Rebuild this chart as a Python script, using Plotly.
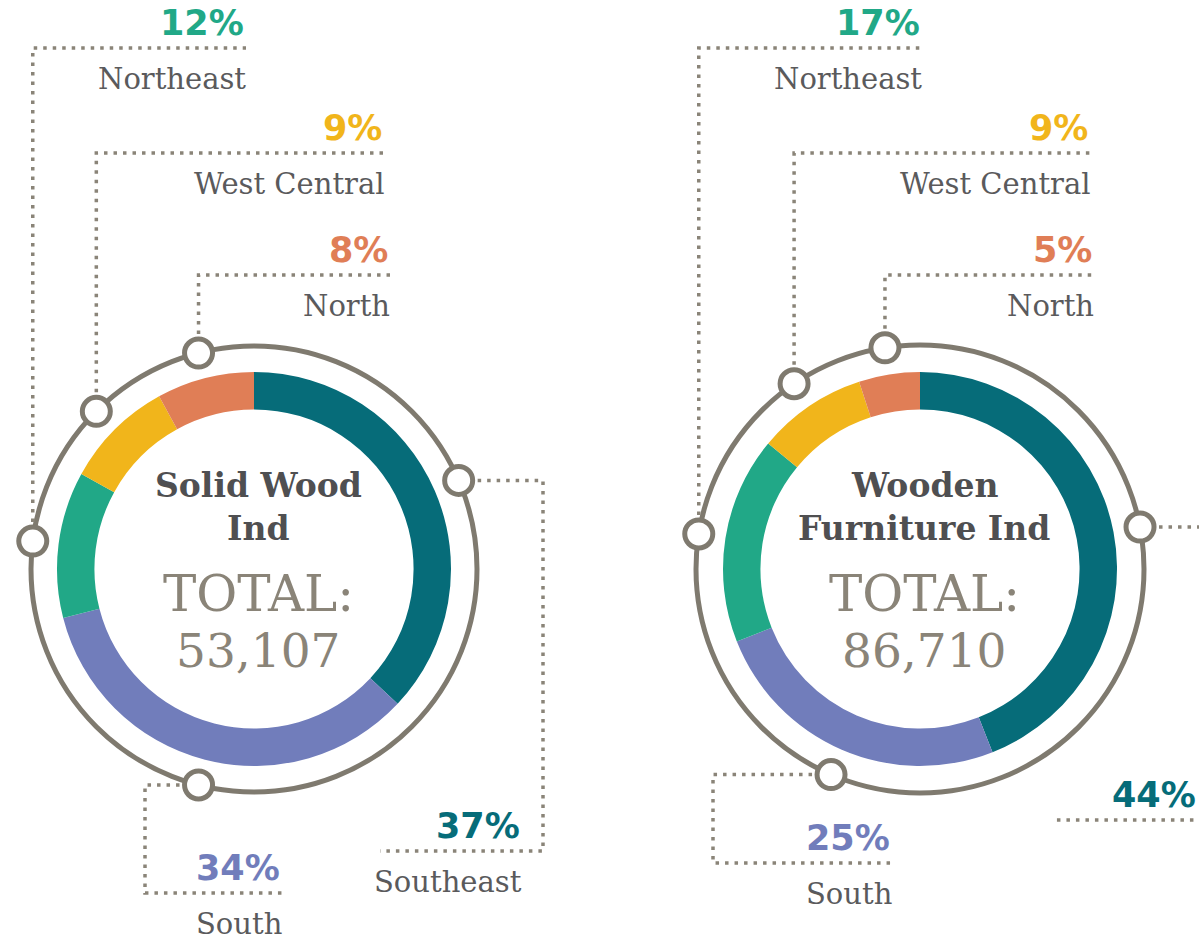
import numpy as np
import plotly.graph_objects as go

# ---------------- data ----------------
regions = ["Southeast", "South", "Northeast", "West Central", "North"]
region_colors = ["#066c79", "#717dbb", "#21a887", "#f1b51b", "#e07e56"]
solid_wood_pct = [37, 34, 12, 9, 8]
wooden_furniture_pct = [44, 25, 17, 9, 5]
chart_titles = [["Solid Wood", "Ind"], ["Wooden", "Furniture Ind"]]
chart_totals = [53107, 86710]

# ---------------- layout / style ----------------
W, H = 1199, 940
RING = "#7f7a6f"
DOT = "#8a8478"
TXT = "#5a5a5c"
TOT = "#8a8478"

charts = [
    dict(values=solid_wood_pct, titles=chart_titles[0], total=chart_totals[0],
         cx=254, cy=569, r_pie=197, r_ring=223,
         callouts={
             "Northeast": dict(kind="up", line_y=48, label_x=246),
             "West Central": dict(kind="up", line_y=153, label_x=384),
             "North": dict(kind="up", line_y=275, label_x=390),
             "Southeast": dict(kind="side", corner_x=543, line_y=851, far_x=380, label_x=522),
             "South": dict(kind="side", corner_x=145, line_y=893, far_x=282, label_x=282),
         }),
    dict(values=wooden_furniture_pct, titles=chart_titles[1], total=chart_totals[1],
         cx=920, cy=569, r_pie=197, r_ring=224,
         callouts={
             "Northeast": dict(kind="up", line_y=48, label_x=922),
             "West Central": dict(kind="up", line_y=153, label_x=1090),
             "North": dict(kind="up", line_y=275, label_x=1094),
             "Southeast": dict(kind="side", corner_x=1215, line_y=820, far_x=1055, label_x=1198),
             "South": dict(kind="side", corner_x=713, line_y=863, far_x=892, label_x=892),
         }),
]

fig = go.Figure()
annotations = []
shapes = []

for ch in charts:
    vals = np.array(ch["values"], dtype=float)
    cx, cy, rp, rr = ch["cx"], ch["cy"], ch["r_pie"], ch["r_ring"]

    # donut
    fig.add_trace(go.Pie(
        values=vals, labels=regions, sort=False, direction="clockwise", rotation=0,
        hole=0.81, marker=dict(colors=region_colors, line=dict(width=0)),
        textinfo="none", hoverinfo="skip", showlegend=False,
        domain=dict(x=[(cx - rp) / W, (cx + rp) / W],
                    y=[1 - (cy + rp) / H, 1 - (cy - rp) / H]),
    ))

    # outer ring
    shapes.append(dict(type="circle", xref="x", yref="y", layer="below",
                       x0=cx - rr, x1=cx + rr, y0=cy - rr, y1=cy + rr,
                       line=dict(color=RING, width=5), fillcolor="rgba(0,0,0,0)"))

    # anchor angles at slice midpoints (clockwise from 12 o'clock)
    frac = vals / vals.sum()
    mids = (np.cumsum(frac) - frac / 2) * 2 * np.pi
    ax = cx + rr * np.sin(mids)
    ay = cy - rr * np.cos(mids)

    for i, reg in enumerate(regions):
        co = ch["callouts"][reg]
        x0, y0 = ax[i], ay[i]
        if co["kind"] == "up":
            px = [x0, x0, co["label_x"]]
            py = [y0, co["line_y"], co["line_y"]]
        else:
            px = [x0, co["corner_x"], co["corner_x"], co["far_x"]]
            py = [y0, y0, co["line_y"], co["line_y"]]
        fig.add_trace(go.Scatter(x=px, y=py, mode="lines", hoverinfo="skip",
                                 showlegend=False,
                                 line=dict(color=DOT, width=3.5, dash="3.5px,6px")))
        annotations.append(dict(x=co["label_x"], y=co["line_y"] - 25, xref="x", yref="y",
                                text=f"{int(vals[i])}%", showarrow=False,
                                xanchor="right", yanchor="middle",
                                font=dict(family="DejaVu Sans", size=35, color=region_colors[i],
                                          weight="bold")))
        annotations.append(dict(x=co["label_x"] + 2, y=co["line_y"] + 31, xref="x", yref="y",
                                text=reg, showarrow=False,
                                xanchor="right", yanchor="middle",
                                font=dict(family="DejaVu Serif", size=29, color=TXT)))

    # anchor circles
    fig.add_trace(go.Scatter(x=ax, y=ay, mode="markers", hoverinfo="skip", showlegend=False,
                             marker=dict(size=28, color="white",
                                         line=dict(color=RING, width=5))))

    # centre text
    for k, line in enumerate(ch["titles"]):
        annotations.append(dict(x=cx + 4, y=485 + 43 * k, xref="x", yref="y", text=line,
                                showarrow=False, xanchor="center", yanchor="middle",
                                font=dict(family="DejaVu Serif", size=33, color="#4f4f51",
                                          weight="bold")))
    annotations.append(dict(x=cx + 4, y=594, xref="x", yref="y", text="TOTAL:",
                            showarrow=False, xanchor="center", yanchor="middle",
                            font=dict(family="DejaVu Serif", size=50, color=TOT)))
    annotations.append(dict(x=cx + 4, y=650, xref="x", yref="y", text=f"{ch['total']:,}",
                            showarrow=False, xanchor="center", yanchor="middle",
                            font=dict(family="DejaVu Serif", size=47, color=TOT)))

fig.update_layout(
    width=W, height=H, margin=dict(l=0, r=0, t=0, b=0),
    paper_bgcolor="white", plot_bgcolor="white",
    xaxis=dict(range=[0, W], visible=False, fixedrange=True),
    yaxis=dict(range=[H, 0], visible=False, fixedrange=True),
    shapes=shapes, annotations=annotations, showlegend=False,
)

fig.write_html("out.html", config={"displayModeBar": False},
               post_script="document.body.style.margin='0';document.body.style.overflow='hidden';")
